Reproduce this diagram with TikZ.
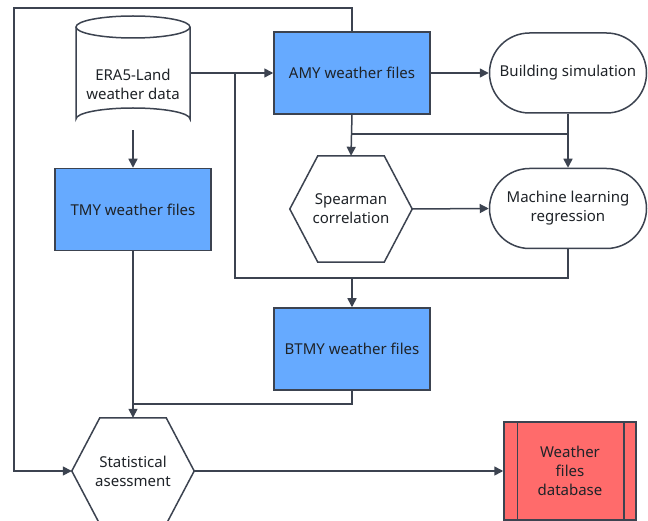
\documentclass[tikz,border=0pt]{standalone}
\usepackage{fontspec}
\setmainfont{Noto Sans}
\usetikzlibrary{arrows.meta,calc}
\definecolor{ln}{HTML}{3C4350}
\definecolor{bluef}{HTML}{66AAFF}
\definecolor{redf}{HTML}{FF6B6B}
\definecolor{tx}{HTML}{1F2328}
\tikzset{
  line/.style={draw=ln, line width=1.5pt},
  arr/.style={line, -{Triangle[length=9pt,width=9pt]}},
  lbl/.style={font=\fontsize{15}{19}\selectfont, text=tx, align=center, inner sep=0pt},
  bluebox/.style={lbl, line, fill=bluef, minimum width=156pt, minimum height=82pt},
  stadium/.style={lbl, line, fill=white, minimum width=157pt, minimum height=80pt, rounded corners=40pt},
  hexbox/.style={lbl, minimum width=122pt, minimum height=106pt},
}
\newcommand{\hexdraw}[1]{\draw[line] (#1.west) -- ($(#1.north west)+(28,0)$) -- ($(#1.north east)+(-28,0)$) -- (#1.east) -- ($(#1.south east)+(-28,0)$) -- ($(#1.south west)+(28,0)$) -- cycle;}
\begin{document}
\begin{tikzpicture}[x=1pt,y=-1pt]
\useasboundingbox[fill=white] (0,0) rectangle (648,521);
% cylinder
\draw[line, fill=white] (76,27) -- (76,119) arc[start angle=180, end angle=360, x radius=57, y radius=11] -- (190,27);
\draw[line, fill=white] (133,27) ellipse[x radius=57, y radius=11];
\node[lbl, minimum width=114pt, minimum height=92pt] (era) at (133,84) {ERA5-Land\\weather data};
% boxes
\node[bluebox] (amy) at (352,73) {AMY weather files};
\node[bluebox] (tmy) at (133,209.5) {TMY weather files};
\node[bluebox] (btmy) at (352,349) {BTMY weather files};
\node[stadium] (bs) at (568,73) {Building simulation};
\node[stadium] (ml) at (568,208.5) {Machine learning\\regression};
\node[hexbox] (sp) at (351,209) {Spearman\\correlation};
\hexdraw{sp}
\node[hexbox] (st) at (133,471) {Statistical\\asessment};
\hexdraw{st}
\node[lbl, line, fill=redf, minimum width=132pt, minimum height=98pt] (db) at (570,471) {Weather\\files\\database};
\draw[line] ($(db.north west)+(14,0)$) -- ($(db.south west)+(14,0)$);
\draw[line] ($(db.north east)+(-13,0)$) -- ($(db.south east)+(-13,0)$);
% junctions
\coordinate (j1) at (235,73);
\coordinate (jb) at (352,278);
\coordinate (ja) at (352,134);
\coordinate (jt) at (133,404);
% connectors
\draw[arr] (era.south) -- (tmy.north);
\draw[arr] (amy.west -| era.east) -- (amy.west);
\draw[line] (j1) |- (jb);
\draw[line] (ml.south) |- (jb);
\draw[arr] (jb) -- (btmy.north);
\draw[arr] (amy.east) -- (bs.west);
\draw[arr] (amy.south) -- (sp.north);
\draw[line] (ja) -- (ja -| bs.south);
\draw[arr] (bs.south) -- (ml.north);
\draw[arr] (sp.east) -- (ml.west);
\draw[arr] (tmy.south) -- (st.north);
\draw[line] (btmy.south) |- (jt);
\draw[arr] (st.east) -- (db.west);
\draw[arr] (amy.north) |- (14,8) |- (st.west);
\end{tikzpicture}
\end{document}
